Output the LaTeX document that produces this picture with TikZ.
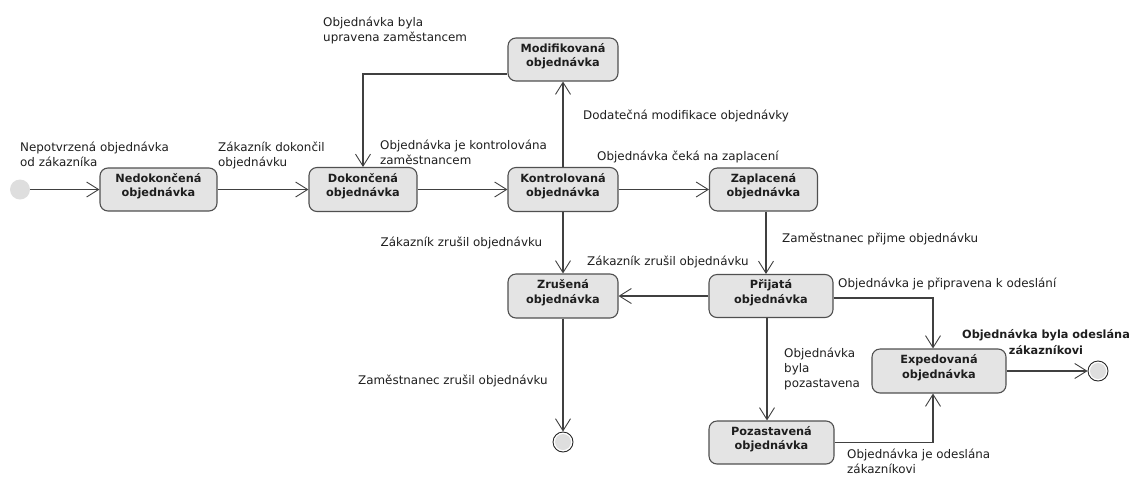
\documentclass[tikz,border=0pt]{standalone}
\usepackage{fontspec}
\setmainfont{DejaVu Sans}
\usetikzlibrary{arrows.meta}
\definecolor{boxfill}{HTML}{E4E4E4}
\definecolor{boxline}{HTML}{505050}
\definecolor{wire}{HTML}{404040}
\definecolor{ink}{HTML}{1E1E1E}
\tikzset{
  state/.style={rectangle, rounded corners=8pt, draw=boxline, line width=1.1pt,
    fill=boxfill, inner sep=0pt},
  statetext/.style={font=\bfseries\fontsize{11.3}{14.4}\selectfont, text=ink,
    align=center, anchor=base, inner sep=0pt},
  lbl/.style={font=\fontsize{11.9}{15.3}\selectfont, text=ink, align=left,
    anchor=base west, inner sep=0pt},
  blbl/.style={font=\bfseries\fontsize{11.3}{15.3}\selectfont, text=ink,
    align=center, anchor=base, inner sep=0pt},
  arr/.style={draw=wire, line width=1.1pt,
    -{Straight Barb[length=12pt,width=15pt,line width=0.9pt]}},
  initial/.style={circle, fill=black!13, minimum size=20pt, inner sep=0pt},
  final/.style={circle, draw=black!85, line width=0.9pt, fill=white,
    minimum size=20pt, inner sep=0pt,
    path picture={\fill[black!13] (path picture bounding box.center) circle (8pt);}},
}
\begin{document}
\begin{tikzpicture}[x=1pt, y=-1pt]
\useasboundingbox (0,0) rectangle (1131,477);

% states
\node[initial] (ini) at (20,189.5) {};
\node[state, minimum width=117pt, minimum height=43pt] (ned) at (158.5,189.5) {};
\node[state, minimum width=108pt, minimum height=44pt] (dok) at (363,189.5) {};
\node[state, minimum width=110pt, minimum height=43pt] (mod) at (563,59.5) {};
\node[state, minimum width=110pt, minimum height=44pt] (kon) at (563,189.5) {};
\node[state, minimum width=108pt, minimum height=43pt] (zap) at (763.5,189.5) {};
\node[state, minimum width=110pt, minimum height=44pt] (zru) at (563,296) {};
\node[state, minimum width=124pt, minimum height=43pt] (pri) at (771,296) {};
\node[state, minimum width=134pt, minimum height=44pt] (exp) at (939,371) {};
\node[state, minimum width=125pt, minimum height=43pt] (poz) at (771.5,442.5) {};
\node[final] (fin1) at (563,442) {};
\node[final] (fin2) at (1098,371) {};

% state names (base anchor sits on the second line)
\node[statetext] (ned-t) at ([yshift=-7.2pt]ned.center) {Nedokončená\\objednávka};
\node[statetext] (dok-t) at ([yshift=-7.2pt]dok.center) {Dokončená\\objednávka};
\node[statetext] (mod-t) at ([yshift=-7.2pt]mod.center) {Modifikovaná\\objednávka};
\node[statetext] (kon-t) at ([yshift=-7.2pt]kon.center) {Kontrolovaná\\objednávka};
\node[statetext] (zap-t) at ([yshift=-7.2pt]zap.center) {Zaplacená\\objednávka};
\node[statetext] (zru-t) at ([yshift=-7.2pt]zru.center) {Zrušená\\objednávka};
\node[statetext] (pri-t) at ([yshift=-7.2pt]pri.center) {Přijatá\\objednávka};
\node[statetext] (exp-t) at ([yshift=-7.2pt]exp.center) {Expedovaná\\objednávka};
\node[statetext] (poz-t) at ([yshift=-7.2pt]poz.center) {Pozastavená\\objednávka};

% transitions
\draw[arr] (ini) -- (ned);
\draw[arr] (ned) -- (dok);
\draw[arr] (dok) -- (kon);
\draw[arr] (kon) -- (mod);
\draw[arr] ([yshift=-14.5pt]mod.west) -| (dok.north);
\draw[arr] (kon) -- (zap);
\draw[arr] (kon) -- (zru);
\draw[arr] ([xshift=2.5pt]zap.south) -- ([xshift=2.5pt]zap.south |- pri.north);
\draw[arr] (pri) -- (zru);
\draw[arr] ([yshift=-2pt]pri.east) -| ([xshift=-6pt]exp.north);
\draw[arr] ([xshift=-4pt]pri.south) -- ([xshift=-4pt]pri.south |- poz.north);
\draw[arr] (poz.east) -| ([xshift=-6pt]exp.south);
\draw[arr] (exp) -- (fin2);
\draw[arr] (zru) -- (fin1);

% transition labels (positions give the baseline of the last line)
\node[lbl] (l1) at (20,166.3) {Nepotvrzená objednávka\\od zákazníka};
\node[lbl] (l2) at (218,166.3) {Zákazník dokončil\\objednávku};
\node[lbl] (l3) at (323,41.3) {Objednávka byla\\upravena zaměstancem};
\node[lbl] (l4) at (380,164.8) {Objednávka je kontrolována\\zaměstnancem};
\node[lbl] (l5) at (583,119) {Dodatečná modifikace objednávky};
\node[lbl] (l6) at (597,160.7) {Objednávka čeká na zaplacení};
\node[lbl] (l7) at (380.5,246.5) {Zákazník zrušil objednávku};
\node[lbl] (l8) at (587,265.7) {Zákazník zrušil objednávku};
\node[lbl] (l9) at (782,242) {Zaměstnanec přijme objednávku};
\node[lbl] (l10) at (838,287.5) {Objednávka je připravena k odeslání};
\node[lbl] (l11) at (784,387.9) {Objednávka\\byla\\pozastavena};
\node[blbl] (l12) at (1046,354) {Objednávka byla odeslána\\zákazníkovi};
\node[lbl] (l13) at (847,473.3) {Objednávka je odeslána\\zákazníkovi};
\node[lbl] (l14) at (358,384) {Zaměstnanec zrušil objednávku};
\end{tikzpicture}
\end{document}
